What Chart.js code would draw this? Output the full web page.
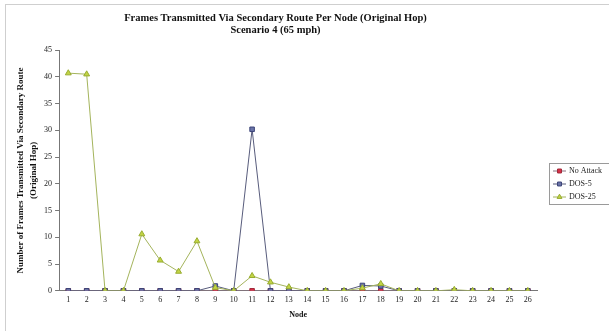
<!DOCTYPE html>
<html>
<head>
<meta charset="utf-8">
<script src="https://cdn.jsdelivr.net/npm/chart.js@4"></script>
<style>
  html, body { margin: 0; padding: 0; background: #fff; overflow: hidden; }
  #wrap { position: relative; width: 609px; height: 331px; }
  #frame { position: absolute; left: 5px; top: 4px; right: -4px; bottom: -4px;
           border-left: 1px solid #cfcfcf; border-top: 1px solid #cfcfcf; pointer-events: none; }
  canvas { position: absolute; left: 0; top: 0; }
</style>
</head>
<body>
<div id="wrap">
  <canvas id="chart" width="609" height="331"></canvas>
  <div id="frame"></div>
</div>
<script>
// nodes on the x axis
const nodes = ['1','2','3','4','5','6','7','8','9','10','11','12','13','14','15','16','17','18','19','20','21','22','23','24','25','26'];

// frames sent via the secondary route, per node
const noAttack = [0,0,0,0,0,0,0,0,0,0,0,0,0,0,0,0,0,0,0,0,0,0,0,0,0,0];
const dos5     = [0,0,0,0,0,0,0,0,0.9,0,30.2,0,0,0,0,0,1.0,0.9,0,0,0,0,0,0,0,0];
const dos25    = [40.7,40.5,0,0,10.6,5.7,3.6,9.3,0.6,0,2.8,1.6,0.7,0,0,0,0.5,1.3,0,0,0,0.2,0,0,0,0];

const yTicks = [0,5,10,15,20,25,30,35,40,45];

const SERIF = "'Liberation Serif', 'Times New Roman', serif";

// boxed legend on the right edge, drawn from the dataset styles
const boxLegend = {
  id: 'boxLegend',
  afterDraw(chart) {
    const ctx = chart.ctx;
    const x = 549, y = 163, w = 70, h = 41;
    ctx.save();
    ctx.strokeStyle = '#9a9a9a';
    ctx.lineWidth = 1;
    ctx.strokeRect(x + 0.5, y + 0.5, w, h);
    ctx.font = '8px ' + SERIF;
    ctx.textBaseline = 'middle';
    chart.data.datasets.forEach((ds, i) => {
      const cy = y + 8 + i * 13;
      ctx.strokeStyle = ds.borderColor;
      ctx.beginPath();
      ctx.moveTo(x + 4, cy);
      ctx.lineTo(x + 17, cy);
      ctx.stroke();
      ctx.fillStyle = ds.pointBackgroundColor;
      ctx.strokeStyle = ds.pointBorderColor;
      Chart.helpers.drawPoint(ctx, {
        pointStyle: ds.pointStyle, radius: 2.8, borderWidth: 1
      }, x + 10.5, cy);
      ctx.fillStyle = '#222';
      ctx.fillText(ds.label, x + 20, cy);
    });
    ctx.restore();
  }
};

new Chart(document.getElementById('chart'), {
  type: 'line',
  data: {
    labels: nodes,
    datasets: [
      {
        label: 'No Attack', data: noAttack, order: 3,
        borderColor: '#8a7080', borderWidth: 1,
        pointStyle: 'rect', pointRadius: 3.2,
        pointBackgroundColor: '#d83048', pointBorderColor: '#a02838'
      },
      {
        label: 'DOS-5', data: dos5, order: 2,
        borderColor: '#585c7c', borderWidth: 1,
        pointStyle: 'rect', pointRadius: 3.2,
        pointBackgroundColor: '#6a74a8', pointBorderColor: '#3c4478'
      },
      {
        label: 'DOS-25', data: dos25, order: 1,
        borderColor: '#a4b45c', borderWidth: 1,
        pointStyle: 'triangle', pointRadius: 3.4,
        pointBackgroundColor: '#c2d444', pointBorderColor: '#98ac30'
      }
    ]
  },
  options: {
    responsive: false,
    animation: false,
    layout: { padding: { left: 14, right: 72, top: 0, bottom: 11 } },
    plugins: {
      legend: { display: false },
      tooltip: { enabled: false },
      title: {
        display: true,
        text: ['Frames Transmitted Via Secondary Route Per Node (Original Hop)', 'Scenario 4 (65 mph)'],
        color: '#111',
        font: { family: SERIF, size: 10.5, weight: 'bold', lineHeight: 1.15 },
        padding: { top: 12, bottom: 14 }
      }
    },
    scales: {
      x: {
        offset: true,
        grid: { display: true, drawOnChartArea: false, drawTicks: false, color: '#888' },
        border: { color: '#777' },
        ticks: { color: '#222', font: { family: SERIF, size: 8 }, padding: 4, maxRotation: 0, autoSkip: false },
        title: {
          display: true, text: 'Node', color: '#111',
          font: { family: SERIF, size: 8, weight: 'bold' }, padding: { top: 2, bottom: 0 }
        }
      },
      y: {
        min: 0, max: 45,
        afterBuildTicks: (scale) => { scale.ticks = yTicks.map(v => ({ value: v })); },
        grid: { display: true, drawOnChartArea: false, tickLength: 4, color: '#777' },
        border: { color: '#777' },
        ticks: { color: '#222', font: { family: SERIF, size: 8 }, padding: 3 },
        title: {
          display: true,
          text: ['Number of Frames Transmitted Via Secondary Route', '(Original Hop)'],
          color: '#111',
          font: { family: SERIF, size: 9, weight: 'bold', lineHeight: 1.45 },
          padding: { top: 0, bottom: 1 }
        }
      }
    }
  },
  plugins: [boxLegend]
});
</script>
</body>
</html>
